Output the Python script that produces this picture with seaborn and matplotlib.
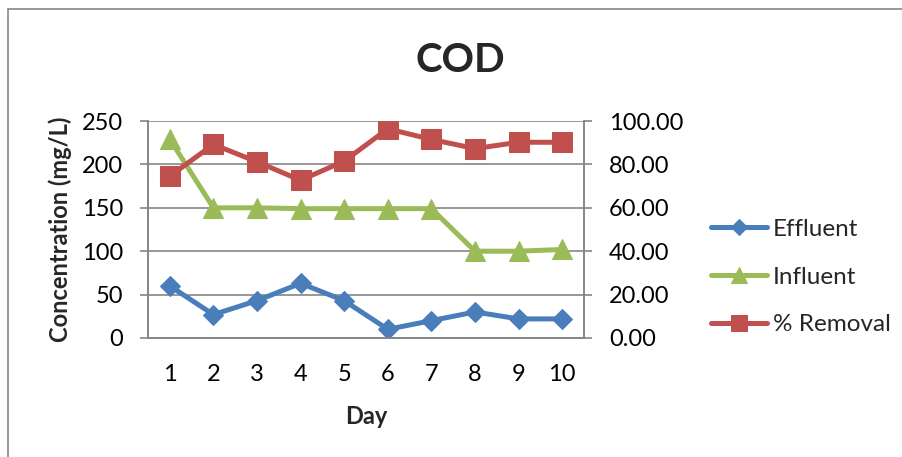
import matplotlib
matplotlib.use("Agg")
import matplotlib.pyplot as plt
import matplotlib.patches as mpatches
from matplotlib.ticker import FormatStrFormatter
import seaborn as sns
import pandas as pd

days = [1, 2, 3, 4, 5, 6, 7, 8, 9, 10]
effluent = [60, 27, 43, 63, 43, 10, 20, 30, 22, 22]
influent = [229, 150, 150, 149, 149, 149, 149, 100, 100, 102]
removal = [74.6, 89.2, 81.2, 72.7, 81.5, 96.4, 91.5, 87.3, 90.2, 90.2]

left_ticks = [0, 50, 100, 150, 200, 250]
right_ticks = [0, 20, 40, 60, 80, 100]

df = pd.DataFrame({"Day": days, "Effluent": effluent,
                   "Influent": influent, "% Removal": removal})

sns.set_style("white")
plt.rcParams['font.family'] = ['Lato', 'DejaVu Sans']

BLUE = "#4A7EBB"
GREEN = "#9BBB59"
RED = "#C0504D"
GRAY = "#868686"

fig = plt.figure(figsize=(9.03, 4.57), dpi=100)
ax = fig.add_axes([148/903, 1-338/457, (584-148)/903, (338-121)/457])
ax2 = ax.twinx()

sns.lineplot(data=df, x="Day", y="Effluent", ax=ax, color=BLUE, marker="D",
             markersize=10.5, markeredgecolor=BLUE, linewidth=3.6, label="Effluent", legend=False)
sns.lineplot(data=df, x="Day", y="Influent", ax=ax, color=GREEN, marker="^",
             markersize=14, markeredgecolor=GREEN, linewidth=3.6, label="Influent", legend=False)
sns.lineplot(data=df, x="Day", y="% Removal", ax=ax2, color=RED, marker="s",
             markersize=14, markeredgecolor=RED, linewidth=3.6, label="% Removal", legend=False)

ax.set_xlim(0.5, 10.5)
ax.set_ylim(0, 250)
ax2.set_ylim(0, 100)
ax.set_xticks(days)
ax.set_xticklabels([str(d) for d in days])
ax.set_yticks(left_ticks)
ax2.set_yticks(right_ticks)
ax2.yaxis.set_major_formatter(FormatStrFormatter("%.2f"))

ax.grid(axis="y", color=GRAY, linewidth=1.2)
ax.grid(axis="x", visible=False)
ax.set_axisbelow(True)

for a in (ax, ax2):
    for s in a.spines.values():
        s.set_color(GRAY)
        s.set_linewidth(1.2)
    a.spines["top"].set_visible(False)

ax.tick_params(axis="y", length=6, width=1.2, color=GRAY, pad=12, labelsize=17, labelcolor="black")
ax2.tick_params(axis="y", length=6, width=1.2, color=GRAY, pad=12, labelsize=17, labelcolor="black")
ax.tick_params(axis="x", length=0, pad=19, labelsize=17, labelcolor="black")

ax.set_xlabel("Day", fontsize=17, fontweight="bold", labelpad=14)
ax.set_ylabel("Concentration (mg/L)", fontsize=17, fontweight="bold", labelpad=7)
ax2.set_ylabel("")

fig.text(460/903, 1-60/457, "COD", ha="center", va="center", fontsize=29, fontweight="bold")

h1, l1 = ax.get_legend_handles_labels()
h2, l2 = ax2.get_legend_handles_labels()
fig.legend(h1 + h2, l1 + l2, loc="center left", bbox_to_anchor=(711/903, 1-277/457),
           frameon=False, fontsize=17.5, handlelength=2.3, handletextpad=0.25,
           labelspacing=1.1, borderpad=0, borderaxespad=0, markerscale=0.8)

fig.patches.append(mpatches.Rectangle((8/903, -0.05), 1.0, 1.05 - 9/457,
                                      transform=fig.transFigure, fill=False,
                                      edgecolor=GRAY, linewidth=1.2))

fig.savefig("out.png", dpi=100)
